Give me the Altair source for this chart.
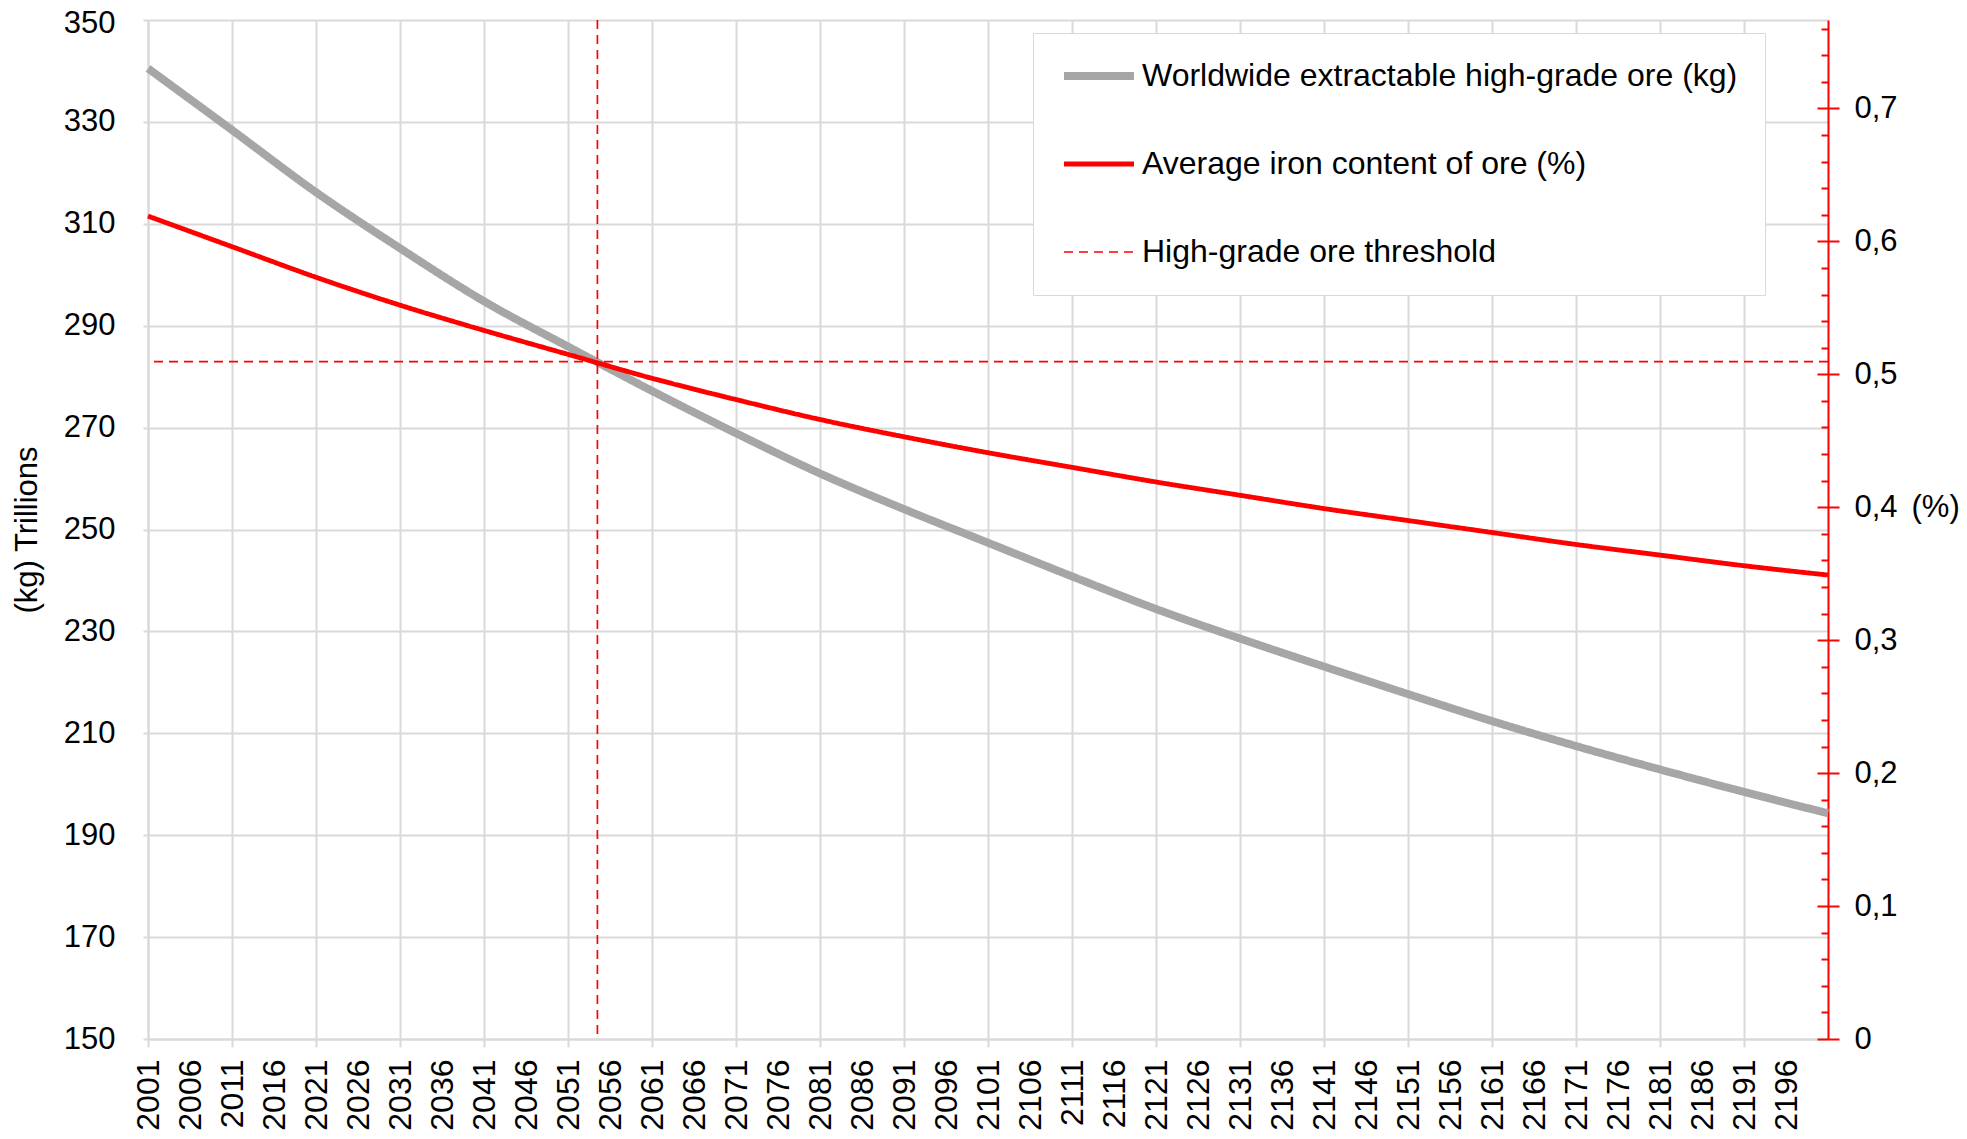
import altair as alt
import pandas as pd

# ---- data ----
years = [2001, 2011, 2021, 2031, 2041, 2051, 2061, 2071, 2081, 2091, 2101,
         2111, 2121, 2131, 2141, 2151, 2161, 2171, 2181, 2191, 2201]
ore_trillion_kg = [340.5, 328.4, 316.2, 305.2, 294.8, 285.9, 277.2, 268.9, 261.0, 254.0, 247.4,
                   240.8, 234.4, 228.6, 223.1, 217.7, 212.4, 207.5, 202.9, 198.5, 194.3]
iron_content_pct = [0.619, 0.596, 0.573, 0.552, 0.533, 0.515, 0.497, 0.481, 0.466, 0.453, 0.441,
                    0.430, 0.419, 0.409, 0.399, 0.390, 0.381, 0.372, 0.364, 0.356, 0.349]
threshold_year = [2054.5]
threshold_pct = [0.5095]

series_names = ["Worldwide extractable high-grade ore (kg)",
                "Average iron content of ore (%)",
                "High-grade ore threshold"]

x_label_values = list(range(2001, 2200, 5))
x_minor_values = [v for v in x_label_values if (v - 2001) % 10 == 5]
left_values = list(range(150, 351, 20))
right_values = [round(i * 0.1, 1) for i in range(0, 8)]
right_minor = [round(i * 0.02, 2) for i in range(0, 39)]

W, H = 1680, 1019
FONT = "Liberation Sans"
GRID = "#d9d9d9"
RED = "#ff0000"
GRAY = "#a6a6a6"

ore_df = pd.DataFrame({"year": years, "value": ore_trillion_kg, "series": series_names[0]})
pct_df = pd.DataFrame({"year": years, "value": iron_content_pct, "series": series_names[1]})
vrule_df = pd.DataFrame({"x": threshold_year, "series": series_names[2]})
hrule_df = pd.DataFrame({"y": threshold_pct, "series": series_names[2]})

x_scale = alt.Scale(domain=[2001, 2201], nice=False, zero=False)
left_scale = alt.Scale(domain=[150, 350], nice=False, zero=False)
right_scale = alt.Scale(domain=[0, 0.7665], nice=False, zero=True)

color = alt.Color("series:N", scale=alt.Scale(domain=series_names, range=[GRAY, RED, RED]),
                  legend=alt.Legend(title=None))
dash = alt.StrokeDash("series:N", scale=alt.Scale(domain=series_names, range=[[1, 0], [1, 0], [9, 6]]),
                      legend=alt.Legend(title=None))
swidth = alt.StrokeWidth("series:N", scale=alt.Scale(domain=series_names, range=[8, 1.7, 2]),
                         legend=alt.Legend(title=None))

gray_line = alt.Chart(ore_df).mark_line(interpolate="monotone").encode(
    x=alt.X("year:Q", scale=x_scale, axis=alt.Axis(
        orient="bottom", values=x_label_values, format="d", labelAngle=270,
        labelFontSize=32, labelColor="black", labelPadding=12, labelFont=FONT,
        tickSize=8, tickWidth=2, tickColor=GRID,
        tickOpacity={"condition": {"test": "(datum.value - 2001) % 10 == 0", "value": 1}, "value": 0},
        grid=True, gridColor=GRID, gridWidth=2,
        gridOpacity={"condition": {"test": "(datum.value - 2001) % 10 == 0", "value": 1}, "value": 0},
        domain=True, domainColor=GRID, domainWidth=2, title=None, labelOverlap=False)),
    y=alt.Y("value:Q", scale=left_scale, axis=alt.Axis(
        orient="left", values=left_values, labelFontSize=31, labelColor="black", labelFont=FONT,
        labelPadding=28, tickSize=5, tickWidth=2, tickColor=GRID,
        labelOffset={"condition": {"test": "datum.value == 350", "value": 3}, "value": 0},
        grid=True, gridColor=GRID, gridWidth=2, domain=True, domainColor=GRID, domainWidth=2,
        title="(kg) Trillions", titleFontSize=31, titleFont=FONT, titleFontWeight="normal",
        titleColor="black", titleAngle=270, titleX=-121, titleY=H / 2,
        titleAlign="center", titleBaseline="middle")),
    color=color, strokeDash=dash, strokeWidth=swidth,
)

red_line = alt.Chart(pct_df).mark_line(interpolate="monotone").encode(
    x=alt.X("year:Q", scale=x_scale, axis=None),
    y=alt.Y("value:Q", scale=right_scale, axis=alt.Axis(
        orient="right", values=right_values,
        labelExpr="datum.value == 0 ? '0' : replace(format(datum.value, '.1f'), '.', ',')",
        labelFontSize=31, labelColor="black", labelFont=FONT, labelPadding=15,
        tickSize=11, tickWidth=2, tickColor=RED, domain=True, domainColor=RED, domainWidth=2,
        grid=False, title="(%)", titleFontSize=31, titleFont=FONT, titleFontWeight="normal",
        titleColor="black", titleAngle=0, titleX=83, titleY=487, titleAlign="left",
        titleBaseline="middle")),
    color=color, strokeDash=dash, strokeWidth=swidth,
)

hrule = alt.Chart(hrule_df).mark_rule().encode(
    y=alt.Y("y:Q", scale=right_scale, axis=alt.Axis(
        orient="left", offset=-W, values=right_minor, labels=False, domain=False, grid=False,
        tickColor=RED, tickWidth=2,
        tickSize={"condition": {"test": "abs(datum.value * 10 - round(datum.value * 10)) < 0.001",
                                "value": 11}, "value": 7},
        title=None)),
    color=color, strokeDash=dash, strokeWidth=swidth,
)

vrule = alt.Chart(vrule_df).mark_rule().encode(
    x=alt.X("x:Q", scale=x_scale, axis=alt.Axis(
        orient="top", offset=-H, values=x_minor_values, labels=False, domain=False, grid=False,
        tickColor=GRID, tickWidth=2, tickSize=7, title=None)),
    color=color, strokeDash=dash, strokeWidth=swidth,
)

inner = alt.layer(red_line, hrule, vrule)

chart = alt.layer(gray_line, inner).resolve_scale(y="independent").properties(
    width=W, height=H,
    autosize=alt.AutoSizeParams(type="none"),
    padding={"left": 140, "top": 12, "right": 131, "bottom": 92},
).configure(font=FONT).configure_view(stroke=None).configure_legend(
    orient="none", legendX=885, legendY=13, fillColor="white", strokeColor=GRID,
    padding=27, rowPadding=56, clipHeight=32, symbolType="stroke", symbolSize=4900,
    labelFontSize=32, labelFont=FONT, labelColor="black", labelOffset=4, labelLimit=1000,
)

chart.save("out.html", embed_options={"renderer": "svg", "actions": False})
